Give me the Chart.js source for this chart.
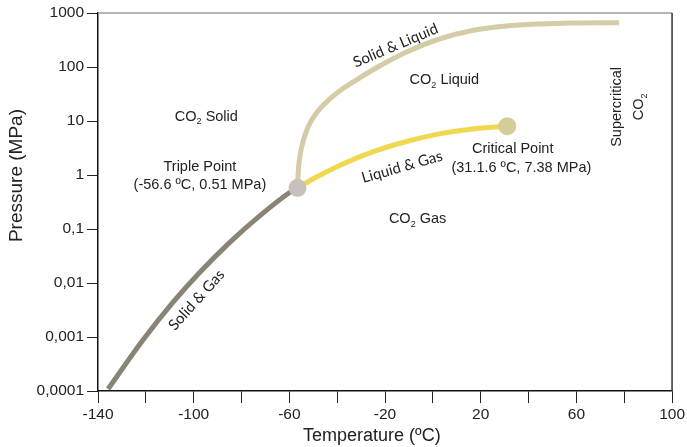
<!DOCTYPE html>
<html>
<head>
<meta charset="utf-8">
<script src="https://cdn.jsdelivr.net/npm/chart.js@4/dist/chart.umd.min.js"></script>
<style>
html,body{margin:0;padding:0;background:#fff;}
#wrap{width:687px;height:447px;position:relative;}
</style>
</head>
<body>
<div id="wrap"><canvas id="c" width="687" height="447"></canvas></div>
<script>
// ---- data ----
const solidGasT = [-135.8, -121.2, -108.7, -97.4, -84.9, -72.4, -59.9, -56.6];
const solidGasP = [0.000109, 0.00088, 0.00436, 0.0158, 0.0567, 0.175, 0.474, 0.58];

const solidLiquidT = [-56.6, -56.24, -55.49, -54.23, -52.35, -49.85, -46.93, -43.17, -39.0, -32.7, -25.2, -18.1, -11.0, 2.7, 16.5, 30.7, 44.5, 58.2, 77.9];
const solidLiquidP = [0.58, 1.24, 2.35, 4.26, 7.42, 11.9, 17.4, 25.5, 35.9, 55.0, 88.0, 132, 190, 330, 474, 574, 626, 653, 661];

const liquidGasT = [-56.6, -48.2, -39.0, -25.2, -11.0, 2.7, 16.5, 31.1];
const liquidGasP = [0.58, 0.937, 1.50, 2.67, 4.17, 5.77, 7.14, 8.0];

const specialT = [-56.6, 31.1];
const specialP = [0.58, 8.0];

const xTickLabelValues = [-140, -100, -60, -20, 20, 60, 100];
const yTickValues = [1000, 100, 10, 1, 0.1, 0.01, 0.001, 0.0001];
const yTickLabels = ['1000', '100', '10', '1', '0,1', '0,01', '0,001', '0,0001'];

const xTitle = 'Temperature (ºC)';
const yTitle = 'Pressure (MPa)';

// annotations (text, temperature, pressure, angle in degrees, style)
const noteText  = ['CO_2 Solid', 'Triple Point', '(-56.6 ºC, 0.51 MPa)', 'CO_2 Liquid', 'Critical Point', '(31.1.6 ºC, 7.38 MPa)', 'CO_2 Gas', 'Supercritical', 'CO_2', 'Solid & Liquid', 'Liquid & Gas', 'Solid & Gas'];
const noteT     = [-94.7, -97.4, -97.4, 4.8, 33.4, 37.0, -6.4, 77.0, 86.2, -15.6, -12.9, -98.8];
const noteP     = [11.9, 1.41, 0.65, 57, 3.03, 1.35, 0.153, 18.2, 18.2, 250, 1.41, 0.00484];
const noteAngle = [0, 0, 0, 0, 0, 0, 0, -90, -90, -23, -16, -48];
const noteStyle = ['a', 'a', 'a', 'a', 'a', 'a', 'a', 'a', 'a', 'b', 'b', 'b'];

const toPts = (xs, ys) => xs.map((x, i) => ({x: x, y: ys[i]}));

const TICK_FONT = '"Liberation Sans", Arial, sans-serif';
const CURVE_FONT = 'Lato, "Open Sans", sans-serif';

function drawRich(ctx, txt, px, py, angleDeg, size, fam, color) {
  const mainFont = size + 'px ' + fam;
  const subFont = Math.round(size * 0.65) + 'px ' + fam;
  const parts = [];
  const re = /_(\d)/g;
  let last = 0, m;
  while ((m = re.exec(txt)) !== null) {
    if (m.index > last) parts.push({t: txt.slice(last, m.index), sub: false});
    parts.push({t: m[1], sub: true});
    last = m.index + 2;
  }
  if (last < txt.length) parts.push({t: txt.slice(last), sub: false});
  let total = 0;
  parts.forEach(p => { ctx.font = p.sub ? subFont : mainFont; p.w = ctx.measureText(p.t).width; total += p.w; });
  ctx.save();
  ctx.translate(px, py);
  ctx.rotate(angleDeg * Math.PI / 180);
  ctx.fillStyle = color;
  ctx.textBaseline = 'middle';
  ctx.textAlign = 'left';
  let cx = -total / 2;
  parts.forEach(p => {
    ctx.font = p.sub ? subFont : mainFont;
    ctx.fillText(p.t, cx, p.sub ? size * 0.35 : 0);
    cx += p.w;
  });
  ctx.restore();
}

const notesPlugin = {
  id: 'notes',
  afterDatasetsDraw(chart) {
    const {ctx, scales} = chart;
    noteText.forEach((txt, i) => {
      const px = scales.x.getPixelForValue(noteT[i]);
      const py = scales.y.getPixelForValue(noteP[i]);
      const b = noteStyle[i] === 'b';
      drawRich(ctx, txt, px, py, noteAngle[i], b ? 15 : 14.5, b ? CURVE_FONT : TICK_FONT, '#222');
    });
  }
};

const framePlugin = {
  id: 'frame',
  afterDraw(chart) {
    const {ctx, chartArea: a} = chart;
    ctx.save();
    ctx.lineWidth = 1.5;
    ctx.strokeStyle = '#9c9c9c';
    ctx.beginPath();
    ctx.moveTo(a.left, a.top);
    ctx.lineTo(a.right, a.top);
    ctx.stroke();
    ctx.strokeStyle = '#333';
    ctx.beginPath();
    ctx.moveTo(a.right, a.top);
    ctx.lineTo(a.right, a.bottom);
    ctx.stroke();
    ctx.restore();
    const h = chart.height;
    drawRich(ctx, xTitle, a.left + (a.right - a.left) * 0.477, h - 11, 0, 18, TICK_FONT, '#222');
    drawRich(ctx, yTitle, 17, a.top + (a.bottom - a.top) * 0.43, -90, 19, TICK_FONT, '#222');
  }
};

const lineBase = {pointRadius: 0, borderWidth: 5, fill: false, borderCapStyle: 'butt', cubicInterpolationMode: 'monotone'};

new Chart(document.getElementById('c'), {
  type: 'line',
  data: {
    datasets: [
      Object.assign({label: 'Solid & Gas', data: toPts(solidGasT, solidGasP), borderColor: '#8b8476', order: 3}, lineBase),
      Object.assign({label: 'Solid & Liquid', data: toPts(solidLiquidT, solidLiquidP), borderColor: '#d3cca6', order: 2}, lineBase),
      Object.assign({label: 'Liquid & Gas', data: toPts(liquidGasT, liquidGasP), borderColor: '#eed950', order: 2}, lineBase),
      {
        label: 'Points', type: 'scatter', data: toPts(specialT, specialP),
        pointRadius: 9, pointHoverRadius: 9, borderWidth: 0,
        pointBackgroundColor: ['#c8c0bc', '#d5cc99'], pointBorderWidth: 0, order: 0
      }
    ]
  },
  options: {
    responsive: false,
    animation: false,
    events: [],
    layout: {padding: {left: 0, top: 13, right: 14, bottom: 0}},
    plugins: {legend: {display: false}, tooltip: {enabled: false}},
    scales: {
      x: {
        type: 'linear', min: -140, max: 100,
        afterFit: s => { s.height = 56; },
        ticks: {
          stepSize: 20, autoSkip: false, maxRotation: 0, padding: 2,
          color: '#222', font: {family: TICK_FONT, size: 15.5},
          callback: v => xTickLabelValues.includes(v) ? String(v) : ''
        },
        grid: {display: true, drawOnChartArea: false, drawTicks: true, tickLength: 12, color: '#222', lineWidth: 1},
        border: {display: true, color: '#111', width: 1.5},
        title: {display: false}
      },
      y: {
        type: 'logarithmic', min: 0.0001, max: 1000,
        afterFit: s => { s.width = 98; },
        afterBuildTicks: s => { s.ticks = yTickValues.map(v => ({value: v, major: true})); },
        ticks: {
          autoSkip: false, padding: 3,
          color: '#222', font: {family: TICK_FONT, size: 15.5},
          callback: (v, i) => yTickLabels[i]
        },
        grid: {display: true, drawOnChartArea: false, drawTicks: true, tickLength: 11, color: '#222', lineWidth: 1},
        border: {display: true, color: '#111', width: 1.5},
        title: {display: false}
      }
    }
  },
  plugins: [notesPlugin, framePlugin]
});
</script>
</body>
</html>
